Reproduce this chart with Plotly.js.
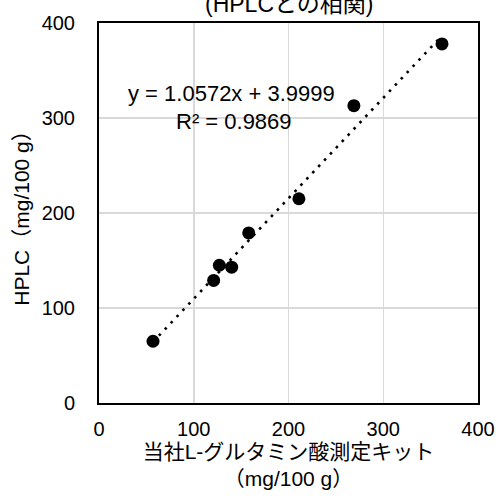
<!DOCTYPE html>
<html>
<head>
<meta charset="utf-8">
<script src="https://cdn.plot.ly/plotly-3.0.1.min.js"></script>
<style>html,body{margin:0;padding:0;background:#fff;}#chart{width:498px;height:496px;}</style>
</head>
<body>
<div id="chart"></div>
<script>
// Data
var kitValues  = [57, 121, 127, 140, 158, 211, 269, 362];
var hplcValues = [65, 129, 145, 143, 179, 215, 313, 378];
var slope = 1.0572;
var intercept = 3.9999;
var rSquared = 0.9869;
var tickValues = [0, 100, 200, 300, 400];
var tickLabels = ["0", "100", "200", "300", "400"];

var xMin = Math.min.apply(null, kitValues);
var xMax = Math.max.apply(null, kitValues);
var trendX = [xMin, xMax];
var trendY = trendX.map(function (v) { return slope * v + intercept; });

var FONT = "'Liberation Sans', Arial, 'Noto Sans CJK JP', sans-serif";

var traces = [
  {
    x: trendX, y: trendY, type: 'scatter', mode: 'lines',
    line: {color: '#000', width: 2.6, dash: '2.6px,6px'},
    hoverinfo: 'skip', showlegend: false
  },
  {
    x: kitValues, y: hplcValues, type: 'scatter', mode: 'markers',
    marker: {color: '#000', size: 13},
    showlegend: false
  }
];

var layout = {
  width: 498, height: 496,
  margin: {l: 99, r: 20, t: 23, b: 93},
  paper_bgcolor: '#fff', plot_bgcolor: '#fff',
  font: {family: FONT, color: '#000', size: 20},
  showlegend: false,
  xaxis: {
    range: [0, 400], tickvals: tickValues, ticktext: tickLabels,
    showgrid: true, gridcolor: '#d9d9d9', gridwidth: 1.5,
    zeroline: false, showline: true, linecolor: '#000', linewidth: 2, mirror: true,
    ticks: '', ticklabelstandoff: 7,
    tickfont: {size: 20, family: FONT, color: '#000'},
    title: {text: '当社L-グルタミン酸測定キット<br>（mg/100 g）', font: {size: 21, family: FONT, color: '#000'}, standoff: 5}
  },
  yaxis: {
    range: [0, 400], tickvals: tickValues, ticktext: tickLabels,
    showgrid: true, gridcolor: '#d9d9d9', gridwidth: 1.5,
    zeroline: false, showline: true, linecolor: '#000', linewidth: 2, mirror: true,
    ticks: '', ticklabelstandoff: 18,
    tickfont: {size: 20, family: FONT, color: '#000'},
    title: {text: 'HPLC（mg/100 g）', font: {size: 21, family: FONT, color: '#000'}, standoff: 6}
  },
  annotations: [
    {
      text: '(HPLCとの相関)', xref: 'paper', yref: 'paper', x: 0.5, y: 1.05,
      xanchor: 'center', yanchor: 'middle', showarrow: false,
      font: {size: 23, family: FONT, color: '#000'}
    },
    {
      text: 'y = ' + slope.toFixed(4) + 'x + ' + intercept.toFixed(4),
      xref: 'paper', yref: 'paper', x: 0.35, y: 0.815,
      xanchor: 'center', yanchor: 'middle', showarrow: false,
      font: {size: 22, family: FONT, color: '#000'}
    },
    {
      text: 'R² = ' + rSquared.toFixed(4),
      xref: 'paper', yref: 'paper', x: 0.355, y: 0.74,
      xanchor: 'center', yanchor: 'middle', showarrow: false,
      font: {size: 22, family: FONT, color: '#000'}
    }
  ]
};

Plotly.newPlot('chart', traces, layout, {displayModeBar: false, staticPlot: true});
</script>
</body>
</html>
